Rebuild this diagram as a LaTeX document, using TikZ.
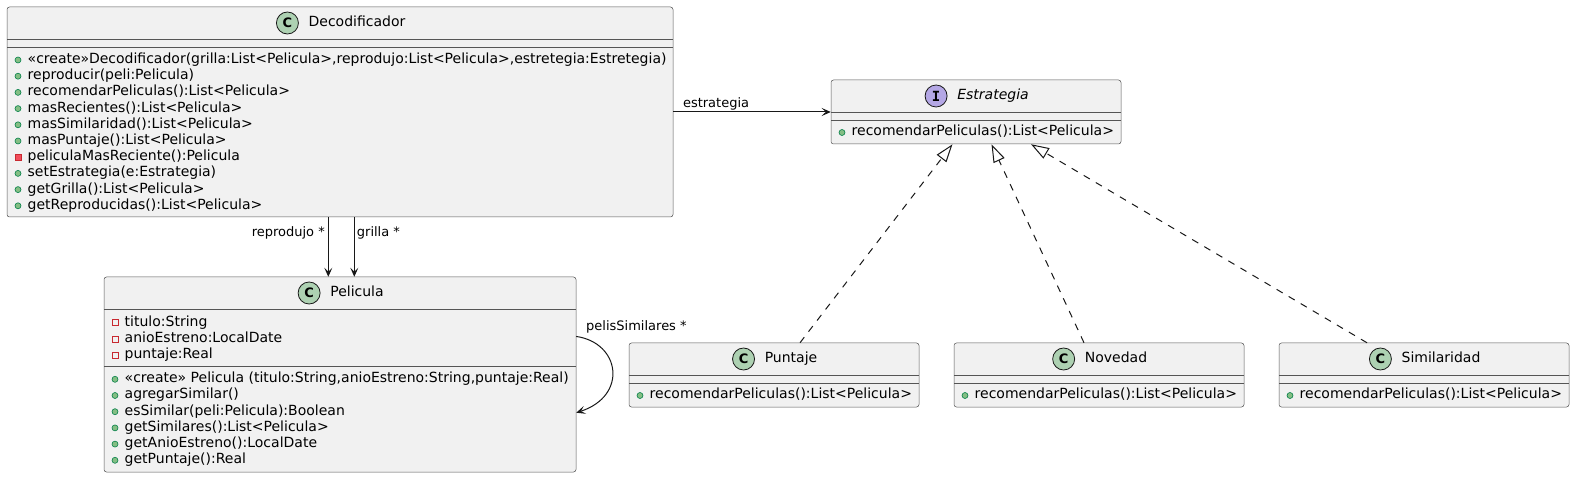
\documentclass[tikz,border=0pt]{standalone}
\usepackage{fontspec}
\setmainfont{DejaVu Sans}
\newfontfamily\spotmono{DejaVu Sans Mono}
\usetikzlibrary{arrows.meta}
\definecolor{ln}{HTML}{181818}
\definecolor{bd}{HTML}{555555}
\definecolor{boxfill}{HTML}{F1F1F1}
\definecolor{cspot}{HTML}{ADD1B2}
\definecolor{ispot}{HTML}{B4A7E5}
\definecolor{pubf}{HTML}{84BE84}
\definecolor{pubd}{HTML}{038048}
\definecolor{privf}{HTML}{F24D5C}
\definecolor{privd}{HTML}{C82930}
\newcommand\pubrow[4]{%
  \node[pubm] (#1i) at (#2+11,#3) {};
  \node[mem] (#1) at (#2+20.5,#3) {#4};}
\newcommand\privmrow[4]{%
  \node[privm] (#1i) at (#2+11,#3) {};
  \node[mem] (#1) at (#2+20.5,#3) {#4};}
\newcommand\privfrow[4]{%
  \node[privf] (#1i) at (#2+11,#3) {};
  \node[mem] (#1) at (#2+20.5,#3) {#4};}
\newcommand\chead[5]{%
  \node[ttl] (#1t) at (#2+17,#3) {#5};
  \node[#4] (#1c) at ([xshift=-21pt]#1t.west) {};}
\begin{document}
\begin{tikzpicture}[x=1pt,y=-1pt,
  box/.style={rectangle, draw=bd, fill=boxfill, line width=0.5pt, rounded corners=2.5pt, inner sep=0},
  sep/.style={draw=bd, line width=0.5pt},
  mem/.style={anchor=west, inner sep=0, font=\fontsize{14}{16}\selectfont, text height=10.2pt, text depth=3.3pt},
  ttl/.style={inner sep=0, font=\fontsize{14}{16}\selectfont, text height=10.2pt, text depth=3.3pt},
  lbl/.style={inner sep=0, font=\fontsize{13}{15}\selectfont, text height=9.5pt, text depth=3pt},
  spotC/.style={circle, draw=ln, line width=0.8pt, fill=cspot, minimum size=22pt, inner sep=0,
    label={[font=\fontsize{13}{13}\selectfont\bfseries, inner sep=0]center:C}},
  spotI/.style={circle, draw=ln, line width=0.8pt, fill=ispot, minimum size=22pt, inner sep=0,
    label={[font=\spotmono\fontsize{14}{14}\selectfont\bfseries, inner sep=0]center:I}},
  pubm/.style={circle, draw=pubd, fill=pubf, line width=0.6pt, minimum size=6pt, inner sep=0},
  privm/.style={rectangle, draw=privd, fill=privf, line width=0.6pt, minimum size=6pt, inner sep=0},
  privf/.style={rectangle, draw=privd, fill=none, line width=0.6pt, minimum size=6pt, inner sep=0},
  assoc/.style={draw=ln, line width=1pt, -{Stealth[length=9pt,width=8pt,inset=4pt]}},
  real/.style={draw=ln, line width=1pt, dash pattern=on 7pt off 7pt, -{Triangle[open,length=18pt,width=12pt]}}
]
\useasboundingbox (0,0) rectangle (1575,478);

% ---------- Decodificador ----------
\node[box, minimum width=666pt, minimum height=210pt] (dec) at (340,112) {};
\draw[sep] (7,39) -- (673,39);
\draw[sep] (7,47) -- (673,47);
\chead{dec}{340}{23}{spotC}{Decodificador}
\pubrow{d0}{7}{60}{«create»Decodificador(grilla:List<Pelicula>,reprodujo:List<Pelicula>,estretegia:Estretegia)}
\pubrow{d1}{7}{76.2}{reproducir(peli:Pelicula)}
\pubrow{d2}{7}{92.4}{recomendarPeliculas():List<Pelicula>}
\pubrow{d3}{7}{108.6}{masRecientes():List<Pelicula>}
\pubrow{d4}{7}{124.8}{masSimilaridad():List<Pelicula>}
\pubrow{d5}{7}{141}{masPuntaje():List<Pelicula>}
\privmrow{d6}{7}{157.2}{peliculaMasReciente():Pelicula}
\pubrow{d7}{7}{173.4}{setEstrategia(e:Estrategia)}
\pubrow{d8}{7}{189.6}{getGrilla():List<Pelicula>}
\pubrow{d9}{7}{205.8}{getReproducidas():List<Pelicula>}

% ---------- Estrategia ----------
\node[box, minimum width=290pt, minimum height=64pt] (est) at (976,112) {};
\draw[sep] (831,112) -- (1121,112);
\draw[sep] (831,120) -- (1121,120);
\chead{est}{976}{96}{spotI}{\itshape Estrategia}
\pubrow{e0}{831}{132.5}{recomendarPeliculas():List<Pelicula>}

% ---------- Pelicula ----------
\node[box, minimum width=472pt, minimum height=195pt] (pel) at (340,374.5) {};
\draw[sep] (104,309) -- (576,309);
\draw[sep] (104,366) -- (576,366);
\chead{pel}{340}{293}{spotC}{Pelicula}
\privfrow{p0}{104}{322.7}{titulo:String}
\privfrow{p1}{104}{339}{anioEstreno:LocalDate}
\privfrow{p2}{104}{355.3}{puntaje:Real}
\pubrow{p3}{104}{379.3}{«create» Pelicula (titulo:String,anioEstreno:String,puntaje:Real)}
\pubrow{p4}{104}{395.5}{agregarSimilar()}
\pubrow{p5}{104}{411.7}{esSimilar(peli:Pelicula):Boolean}
\pubrow{p6}{104}{427.9}{getSimilares():List<Pelicula>}
\pubrow{p7}{104}{444.1}{getAnioEstreno():LocalDate}
\pubrow{p8}{104}{460.3}{getPuntaje():Real}

% ---------- Puntaje ----------
\node[box, minimum width=290pt, minimum height=64pt] (pun) at (774,375) {};
\draw[sep] (629,375) -- (919,375);
\draw[sep] (629,383) -- (919,383);
\chead{pun}{774}{359}{spotC}{Puntaje}
\pubrow{u0}{629}{395.5}{recomendarPeliculas():List<Pelicula>}

% ---------- Novedad ----------
\node[box, minimum width=290pt, minimum height=64pt] (nov) at (1099,375) {};
\draw[sep] (954,375) -- (1244,375);
\draw[sep] (954,383) -- (1244,383);
\chead{nov}{1099}{359}{spotC}{Novedad}
\pubrow{n0}{954}{395.5}{recomendarPeliculas():List<Pelicula>}

% ---------- Similaridad ----------
\node[box, minimum width=290pt, minimum height=64pt] (sim) at (1424,375) {};
\draw[sep] (1279,375) -- (1569,375);
\draw[sep] (1279,383) -- (1569,383);
\chead{sim}{1424}{359}{spotC}{Similaridad}
\pubrow{s0}{1279}{395.5}{recomendarPeliculas():List<Pelicula>}

% ---------- connectors ----------
\draw[assoc] (dec.east) -- (est.west);
\node[lbl, anchor=west] (lest) at (682.8,104.3) {estrategia};

\coordinate (rx) at (328.3,0);
\coordinate (gx) at (354.3,0);
\draw[assoc] (dec.south -| rx) -- (pel.north -| rx);
\draw[assoc] (dec.south -| gx) -- (pel.north -| gx);
\node[lbl, anchor=east] (lrep) at (325,233.3) {reprodujo *};
\node[lbl, anchor=west] (lgri) at (356.7,233.3) {grilla *};

\draw[assoc] ([yshift=-59.7pt]pel.north east) .. controls +(44,6.3) and +(52,-17) .. ([yshift=-136pt]pel.north east);
\node[lbl, anchor=west] (lpel) at (586,327) {pelisSimilares *};

\coordinate (t1) at (952.5,0);
\coordinate (t2) at (991.5,0);
\coordinate (t3) at (1031,0);
\coordinate (b1) at (800,0);
\coordinate (b2) at (1084,0);
\coordinate (b3) at (1367,0);
\draw[real] (pun.north -| b1) -- (est.south -| t1);
\draw[real] (nov.north -| b2) -- (est.south -| t2);
\draw[real] (sim.north -| b3) -- (est.south -| t3);
\end{tikzpicture}
\end{document}
